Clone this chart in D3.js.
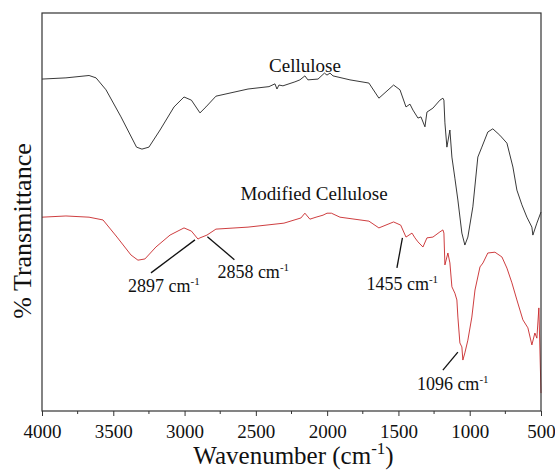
<!DOCTYPE html>
<html>
<head>
<meta charset="utf-8">
<script src="https://cdn.jsdelivr.net/npm/d3@7"></script>
<style>
  body { margin: 0; background: #fff; }
  svg text { font-family: "Liberation Serif", "Times New Roman", serif; fill: #111; }
</style>
</head>
<body>
<svg id="svg" width="555" height="472"></svg>
<script>
// cellulose spectrum (wavenumber, % transmittance)
var celluloseWn = [4000, 3832, 3670, 3621, 3551, 3446, 3337, 3299, 3250, 3172, 3074, 3004, 2952, 2892, 2850, 2780,
    2555, 2408, 2366, 2352, 2338, 2310, 2226, 2191, 2156, 2135, 2064, 2019, 2001, 1980, 1959, 1840, 1707, 1637,
    1534, 1489, 1447, 1419, 1398, 1363, 1342, 1314, 1300, 1258, 1209, 1188, 1181, 1174, 1160, 1139, 1125, 1104,
    1083, 1055, 1034, 1013, 978, 943, 915, 873, 838, 789, 739, 697, 669, 634, 599, 564, 557, 529, 500];
var celluloseT = [83.4, 83.7, 84.3, 83.7, 80.7, 73.9, 66.3, 65.8, 66.3, 70.6, 76.4, 78.9, 78.1, 74.9, 76.4, 79.1,
    80.9, 81.5, 82.2, 80.9, 81.9, 81.7, 82.7, 83.2, 84.2, 83.2, 83.4, 84.9, 84.4, 84.9, 84.2, 83.2, 82.4, 78.6,
    81.9, 80.7, 76.4, 77.1, 75.6, 73.6, 73.9, 71.4, 75.1, 76.1, 78.1, 78.6, 78.1, 72.4, 66.3, 70.6, 63.8, 58.5,
    53.0, 44.7, 41.7, 43.7, 51.3, 63.8, 66.3, 70.1, 70.9, 69.3, 67.3, 61.3, 55.5, 51.8, 48.7, 46.2, 44.2, 47.2, 50.0];

// modified cellulose spectrum
var modifiedWn = [4000, 3832, 3670, 3572, 3474, 3376, 3327, 3278, 3201, 3102, 3004, 2952, 2906, 2892, 2843, 2780,
    2555, 2303, 2184, 2156, 2121, 2078, 2029, 2001, 1970, 1910, 1707, 1637, 1534, 1484, 1447, 1405, 1384, 1363,
    1328, 1300, 1258, 1209, 1188, 1181, 1174, 1153, 1139, 1125, 1104, 1090, 1083, 1069, 1055, 1048, 1034, 1013,
    985, 963, 928, 907, 873, 823, 774, 739, 704, 669, 627, 592, 564, 543, 529, 515, 500];
var modifiedT = [48.7, 49.0, 48.7, 48.0, 43.7, 39.2, 37.9, 38.2, 41.2, 44.2, 46.0, 45.2, 43.2, 43.5, 44.2, 45.7,
    46.2, 47.2, 48.5, 49.7, 48.2, 48.7, 49.2, 49.7, 49.7, 48.7, 47.7, 46.0, 47.5, 46.7, 43.7, 44.7, 43.5, 42.5,
    41.2, 43.5, 43.7, 45.0, 45.5, 44.7, 36.7, 39.7, 37.2, 31.2, 29.6, 27.9, 23.6, 17.1, 16.1, 12.8, 14.6, 17.8,
    23.6, 30.4, 36.2, 37.2, 39.7, 39.9, 38.7, 35.9, 32.2, 27.9, 22.9, 20.9, 16.6, 19.6, 18.3, 25.9, 4.5];

var xTicks = [4000, 3500, 3000, 2500, 2000, 1500, 1000, 500];
var xMinor = [3750, 3250, 2750, 2250, 1750, 1250, 750];

// peak labels and where their leader lines touch the red curve
var annoText = ['2897', '2858', '1455', '1096'];
var annoWn = [2927, 2840, 1472, 1083];
var annoT = [43.0, 43.8, 43.5, 14.8];

var mLeft = 42, mRight = 541, mTop = 13, mBottom = 411;
var svg = d3.select('#svg');

var x = d3.scaleLinear().domain([4000, 500]).range([mLeft, mRight]);
var y = d3.scaleLinear().domain([0, 100]).range([mBottom, mTop]);

function toPts(wn, t) {
    return wn.map((w, i) => [w, t[i]]);
}

var line = d3.line().x(d => x(d[0])).y(d => y(d[1]));

svg.append('path')
    .attr('d', line(toPts(celluloseWn, celluloseT)))
    .attr('fill', 'none')
    .attr('stroke', '#222')
    .attr('stroke-width', 0.9);

svg.append('path')
    .attr('d', line(toPts(modifiedWn, modifiedT)))
    .attr('fill', 'none')
    .attr('stroke', '#c8282a')
    .attr('stroke-width', 0.9);

// frame
svg.append('rect')
    .attr('x', mLeft).attr('y', mTop)
    .attr('width', mRight - mLeft).attr('height', mBottom - mTop)
    .attr('fill', 'none').attr('stroke', '#333').attr('stroke-width', 1.2);

// x axis
var xAxis = d3.axisBottom(x).tickValues(xTicks).tickSize(5).tickFormat(d3.format('d'));
var gx = svg.append('g').attr('transform', 'translate(0,' + mBottom + ')').call(xAxis);
gx.select('.domain').remove();
gx.selectAll('line').attr('stroke', '#333');
gx.selectAll('text').attr('font-size', 19).attr('dy', '1.0em').attr('fill', '#111')
    .attr('font-family', '"Liberation Serif", serif');

svg.append('g').selectAll('line').data(xMinor).enter().append('line')
    .attr('x1', d => x(d)).attr('x2', d => x(d))
    .attr('y1', mBottom).attr('y2', mBottom + 3)
    .attr('stroke', '#333');

// axis titles
var xt = svg.append('text')
    .attr('x', (mLeft + mRight) / 2 + 2).attr('y', 464)
    .attr('text-anchor', 'middle').attr('font-size', 25);
xt.append('tspan').text('Wavenumber (cm');
xt.append('tspan').text('-1').attr('font-size', 17).attr('dy', -10);
xt.append('tspan').text(')').attr('dy', 10);

svg.append('text')
    .attr('transform', 'translate(31,231) rotate(-90)')
    .attr('text-anchor', 'middle').attr('font-size', 26)
    .text('% Transmittance');

// series labels
svg.append('text').attr('x', 305).attr('y', 72).attr('text-anchor', 'middle')
    .attr('font-size', 19).text('Cellulose');
svg.append('text').attr('x', 314).attr('y', 200).attr('text-anchor', 'middle')
    .attr('font-size', 19).text('Modified Cellulose');

// peak annotations
var annoEnd = [[-44, 33], [27, 23], [-5.5, 30], [-15, 18]];
var annoLab = [[-67, 52], [10, 41], [-36, 52], [-41, 38]];
annoText.forEach(function (t, i) {
    var ax = x(annoWn[i]), ay = y(annoT[i]);
    svg.append('line')
        .attr('x1', ax).attr('y1', ay)
        .attr('x2', ax + annoEnd[i][0]).attr('y2', ay + annoEnd[i][1])
        .attr('stroke', '#111').attr('stroke-width', 1.3);
    var tx = svg.append('text')
        .attr('x', ax + annoLab[i][0]).attr('y', ay + annoLab[i][1])
        .attr('font-size', 18);
    tx.append('tspan').text(t + ' cm');
    tx.append('tspan').text('-1').attr('font-size', 11).attr('dy', -7);
});
</script>
</body>
</html>
